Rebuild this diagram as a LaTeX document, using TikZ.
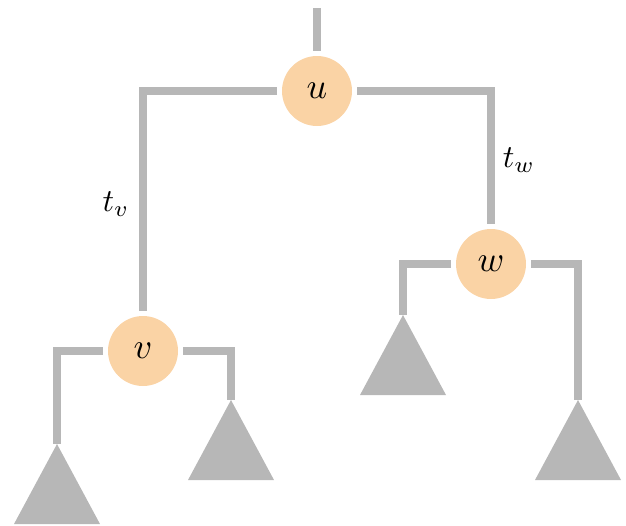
\documentclass[tikz,border=0pt]{standalone}
\definecolor{edgegray}{HTML}{B7B7B7}
\definecolor{nodeorange}{HTML}{FAD3A5}
\newcommand{\bigmath}[2]{\scalebox{#1}{$#2$}}
\begin{document}
\begin{tikzpicture}[x=1pt,y=-1pt,
  vert/.style={circle,fill=nodeorange,minimum size=70pt,inner sep=0pt,outer sep=5pt},
  edge/.style={draw=edgegray,line width=7.5pt,line cap=butt,line join=miter},
  subtree/.style={fill=edgegray},
  lbl/.style={inner sep=0pt}]
\useasboundingbox (0,0) rectangle (626,525);
\node[vert] (u) at (317,91) {\bigmath{3.6}{u}};
\node[vert] (v) at (143,351) {\bigmath{3.6}{v}};
\node[vert] (w) at (491,264) {\bigmath{3.6}{w}};
\coordinate (top) at (317,8);
\coordinate (a1) at (403,315);
\coordinate (a2) at (578,400);
\coordinate (a3) at (57,444);
\coordinate (a4) at (231,400);
\draw[edge] (top) -- (u.north);
\draw[edge] (u.west) -| (v.north);
\draw[edge] (u.east) -| (w.north);
\draw[edge] (w.west) -| (a1);
\draw[edge] (w.east) -| (a2);
\draw[edge] (v.west) -| (a3);
\draw[edge] (v.east) -| (a4);
\foreach \a in {a1,a2,a3,a4}{
  \fill[subtree] (\a) -- ++(43,80) -- ++(-86,0) -- cycle;
}
\node[lbl] (tv) at (116,204) {\bigmath{3.2}{t_v}};
\node[lbl] (tw) at (519,160) {\bigmath{3.2}{t_w}};
\end{tikzpicture}
\end{document}
